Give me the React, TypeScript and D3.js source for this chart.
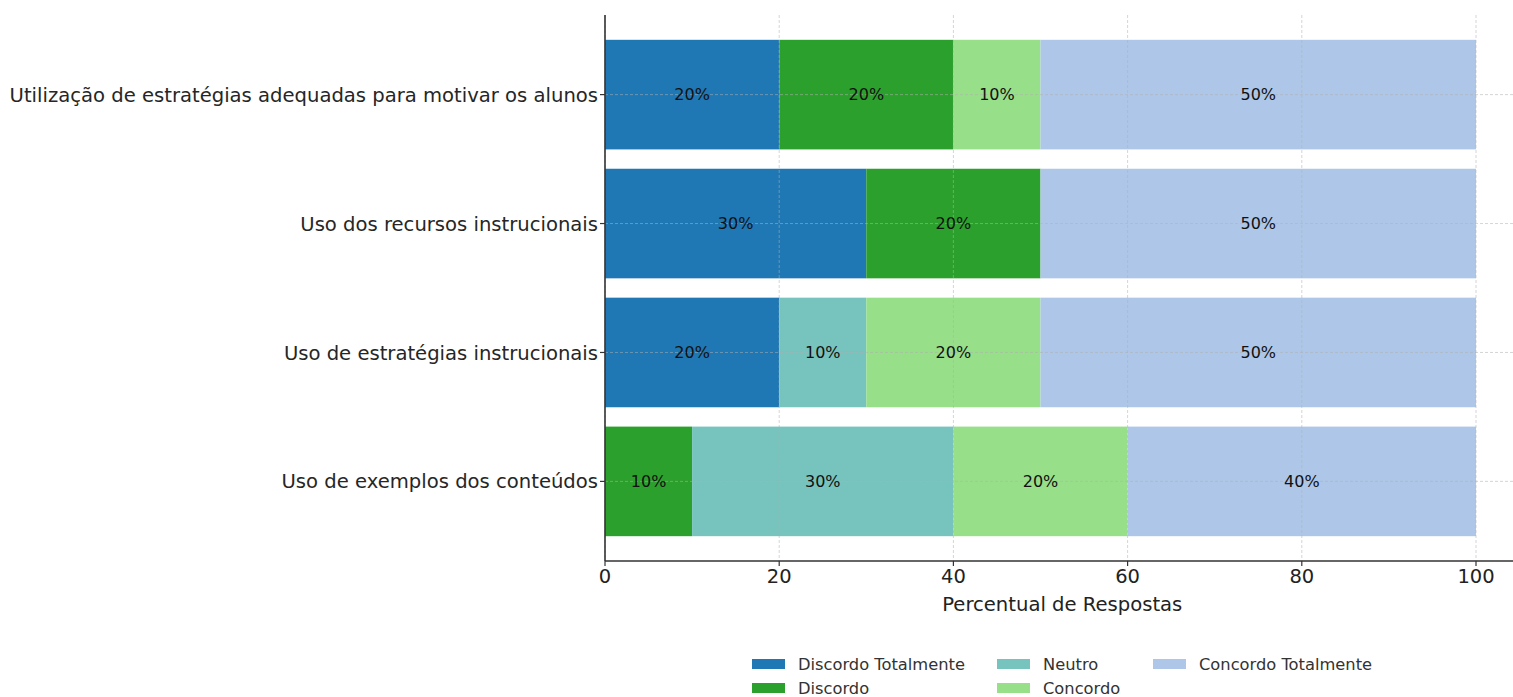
import React, { useEffect, useRef } from "react";
import * as d3 from "d3";

const categories = [
  "Utilização de estratégias adequadas para motivar os alunos",
  "Uso dos recursos instrucionais",
  "Uso de estratégias instrucionais",
  "Uso de exemplos dos conteúdos",
];
const seriesNames = ["Discordo Totalmente", "Discordo", "Neutro", "Concordo", "Concordo Totalmente"];
const discordoTotalmente = [20, 30, 20, 0];
const discordo = [20, 20, 0, 10];
const neutro = [0, 0, 10, 30];
const concordo = [10, 0, 20, 20];
const concordoTotalmente = [50, 50, 50, 40];
const colors = ["#1f77b4", "#2ca02c", "#76c4bd", "#98df8a", "#aec7e8"];
const xTicks = [0, 20, 40, 60, 80, 100];

const W = 1513;
const H = 697;
const FONT = "'DejaVu Sans', sans-serif";

export default function App() {
  const ref = useRef<SVGSVGElement>(null);
  useEffect(() => {
    const svg = d3.select(ref.current);
    svg.selectAll("*").remove();
    const left = 605, top = 15, bottom = 561;
    const x = d3.scaleLinear().domain([0, 105]).range([left, left + 105 * 8.71]);
    const barH = 0.85;
    const y = d3.scaleLinear().domain([-0.6175, 3.6175]).range([top, bottom]);

    const series = [discordoTotalmente, discordo, neutro, concordo, concordoTotalmente];
    const table = categories.map((c, i) => {
      const o: any = { cat: c, idx: i };
      seriesNames.forEach((s, k) => (o[s] = series[k][i]));
      return o;
    });
    const stacked = d3.stack().keys(seriesNames)(table);

    const g = svg.append("g");
    stacked.forEach((layer, k) => {
      layer.forEach((d: any, i) => {
        const v = d[1] - d[0];
        if (v <= 0) return;
        g.append("rect")
          .attr("x", x(d[0]))
          .attr("width", x(d[1]) - x(d[0]))
          .attr("y", y(i - barH / 2))
          .attr("height", y(i + barH / 2) - y(i - barH / 2))
          .attr("fill", colors[k]);
      });
    });

    // grid
    const grid = svg.append("g").attr("stroke", "#b0b0b0").attr("stroke-opacity", 0.6)
      .attr("stroke-width", 0.9).attr("stroke-dasharray", "3,2");
    xTicks.forEach((t) => {
      grid.append("line").attr("x1", x(t)).attr("x2", x(t)).attr("y1", top).attr("y2", bottom);
    });
    categories.forEach((_, i) => {
      grid.append("line").attr("x1", left).attr("x2", W).attr("y1", y(i)).attr("y2", y(i));
    });

    // labels
    stacked.forEach((layer) => {
      layer.forEach((d: any, i) => {
        const v = d[1] - d[0];
        if (v <= 0) return;
        svg.append("text")
          .attr("x", x((d[0] + d[1]) / 2))
          .attr("y", y(i))
          .attr("dy", "0.36em")
          .attr("text-anchor", "middle")
          .attr("font-family", FONT)
          .attr("font-size", 16)
          .attr("fill", "#111")
          .text(`${v}%`);
      });
    });

    // axes
    const ax = svg.append("g").attr("stroke", "#333").attr("stroke-width", 1.6);
    ax.append("line").attr("x1", left).attr("x2", left).attr("y1", top).attr("y2", bottom);
    ax.append("line").attr("x1", left).attr("x2", W).attr("y1", bottom).attr("y2", bottom);
    xTicks.forEach((t) => {
      ax.append("line").attr("x1", x(t)).attr("x2", x(t)).attr("y1", bottom).attr("y2", bottom + 5).attr("stroke-width", 1.2);
      svg.append("text").attr("x", x(t)).attr("y", bottom + 22).attr("text-anchor", "middle")
        .attr("font-family", FONT).attr("font-size", 19.5).attr("fill", "#222").text(String(t));
    });
    categories.forEach((c, i) => {
      ax.append("line").attr("x1", left - 5).attr("x2", left).attr("y1", y(i)).attr("y2", y(i)).attr("stroke-width", 1.2);
      svg.append("text").attr("x", left - 7).attr("y", y(i)).attr("dy", "0.36em").attr("text-anchor", "end")
        .attr("font-family", FONT).attr("font-size", 19.6).attr("fill", "#262626").text(c);
    });
    svg.append("text").attr("x", x(52.5)).attr("y", 611).attr("text-anchor", "middle")
      .attr("font-family", FONT).attr("font-size", 19.6).attr("fill", "#222").text("Percentual de Respostas");

    // legend
    const legendPos = [
      { x: 752, y: 664 },
      { x: 752, y: 688 },
      { x: 997, y: 664 },
      { x: 997, y: 688 },
      { x: 1153, y: 664 },
    ];
    seriesNames.forEach((s, k) => {
      const p = legendPos[k];
      svg.append("rect").attr("x", p.x).attr("y", p.y - 5).attr("width", 33).attr("height", 10).attr("fill", colors[k]);
      svg.append("text").attr("x", p.x + 46).attr("y", p.y).attr("dy", "0.36em")
        .attr("font-family", FONT).attr("font-size", 16.3).attr("fill", "#333").text(s);
    });
  }, []);
  return (
    <svg ref={ref} width={W} height={H} style={{ position: "absolute", left: 0, top: 0, background: "#fff" }} />
  );
}
